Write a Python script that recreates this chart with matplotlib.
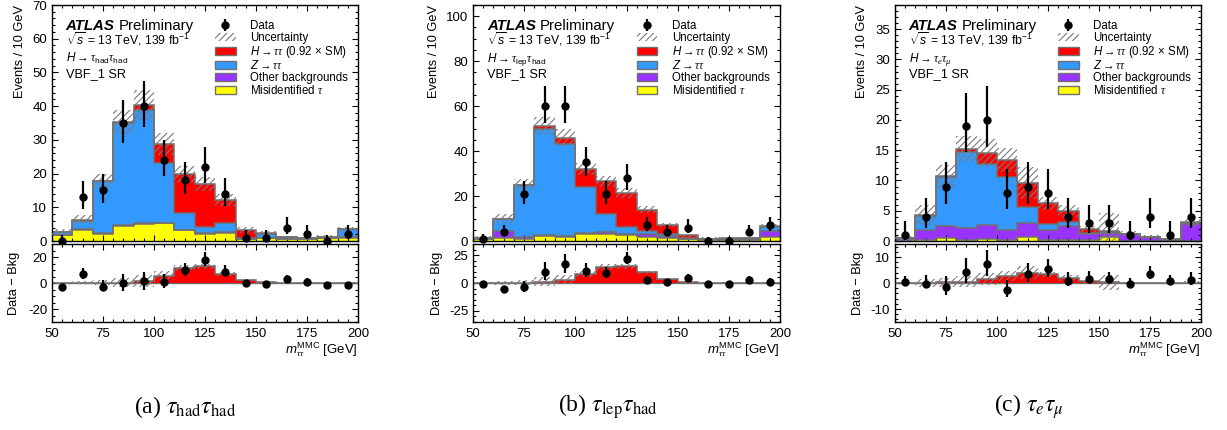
import numpy as np
import matplotlib
matplotlib.use("Agg")
import matplotlib.pyplot as plt
from matplotlib.patches import Patch
from matplotlib.ticker import MultipleLocator

plt.rcParams['font.family'] = ['Liberation Sans', 'DejaVu Sans']
plt.rcParams['mathtext.fontset'] = 'custom'
plt.rcParams['mathtext.rm'] = 'Liberation Sans'
plt.rcParams['mathtext.it'] = 'Liberation Sans:italic'
plt.rcParams['mathtext.bf'] = 'Liberation Sans:bold'
plt.rcParams['mathtext.sf'] = 'Liberation Serif:italic'
plt.rcParams['axes.unicode_minus'] = False
plt.rcParams['hatch.linewidth'] = 0.8
plt.rcParams['axes.linewidth'] = 1.0

# ---------------- data ----------------
bin_edges = np.arange(50, 201, 10)

# (a) tau_had tau_had
data_a  = [0, 13, 15, 35, 40, 24, 18, 22, 14, 1, 1, 4, 2, 0, 2]
fake_a  = [1.7, 3.4, 2.2, 4.5, 5.0, 5.2, 3.2, 2.2, 2.5, 0.5, 0.9, 0.6, 0.5, 0.8, 0.8]
other_a = [0.1, 0.1, 0.1, 0.2, 0.2, 0.2, 0.1, 0.1, 0.1, 0.1, 0.1, 0.1, 0.1, 0.1, 0.4]
ztt_a   = [0.9, 2.5, 15.4, 30.3, 33.6, 17.6, 4.9, 1.9, 2.7, 0.4, 1.0, 0.4, 0.3, 0.3, 2.3]
htt_a   = [0.0, 0.3, 0.1, 0.3, 1.5, 5.7, 11.6, 12.8, 6.9, 2.3, 0.4, 0.1, 0.0, 0.0, 0.1]
unc_a   = [0.9, 1.3, 2.0, 3.5, 4.5, 3.2, 2.3, 2.1, 1.8, 0.8, 0.7, 0.4, 0.4, 0.5, 0.6]

# (b) tau_lep tau_had
data_b  = [1, 4, 21, 60, 60, 35, 21, 28, 7, 4, 6, 0, 0, 4, 7]
fake_b  = [0.8, 1.5, 1.0, 2.2, 2.0, 3.0, 3.0, 2.5, 2.0, 1.5, 0.8, 0.6, 0.6, 0.6, 2.0]
other_b = [0.3, 3.0, 1.0, 0.3, 0.3, 0.5, 1.0, 0.7, 1.0, 0.8, 0.3, 0.2, 0.2, 0.2, 2.5]
ztt_b   = [0.4, 5.3, 22.7, 47.5, 40.7, 20.5, 8.0, 2.9, 1.5, 1.0, 0.4, 0.2, 0.3, 0.4, 1.8]
htt_b   = [0.0, 0.2, 0.3, 1.0, 3.0, 8.0, 14.5, 15.2, 9.5, 3.8, 1.1, 0.1, 0.1, 0.1, 0.3]
unc_b   = [0.6, 2.0, 2.5, 4.0, 3.8, 2.5, 2.6, 2.3, 1.5, 0.8, 0.6, 0.5, 0.5, 0.5, 1.0]

# (c) tau_e tau_mu
data_c  = [1, 4, 9, 19, 20, 8, 9, 8, 4, 3, 3, 1, 4, 1, 4]
fake_c  = [0.0, 0.2, 0.5, 0.1, 0.4, 0.1, 0.7, 0.2, 0.2, 0.1, 0.7, 0.0, 0.0, 0.0, 0.0]
other_c = [0.4, 1.6, 1.9, 2.1, 2.2, 1.7, 2.2, 1.6, 2.2, 1.1, 0.6, 1.1, 0.6, 0.2, 2.8]
ztt_c   = [0.05, 2.4, 8.1, 12.5, 10.2, 8.8, 2.7, 1.0, 0.7, 0.2, 0.2, 0.1, 0.1, 0.1, 0.2]
htt_c   = [0.0, 0.1, 0.2, 0.5, 1.7, 2.8, 4.0, 3.4, 1.9, 0.6, 0.2, 0.0, 0.0, 0.0, 0.1]
unc_c   = [0.4, 1.6, 1.9, 2.1, 2.3, 2.0, 2.6, 1.0, 1.0, 0.5, 3.0, 0.4, 0.3, 0.1, 0.6]

channel_labels = [r'$H\rightarrow\mathsf{\tau}_{\mathrm{had}}\mathsf{\tau}_{\mathrm{had}}$',
                  r'$H\rightarrow\mathsf{\tau}_{\mathrm{lep}}\mathsf{\tau}_{\mathrm{had}}$',
                  r'$H\rightarrow\mathsf{\tau}_{\mathsf{e}}\mathsf{\tau}_{\mathsf{\mu}}$']
captions = [r'(a) $\tau_{\mathrm{had}}\tau_{\mathrm{had}}$',
            r'(b) $\tau_{\mathrm{lep}}\tau_{\mathrm{had}}$',
            r'(c) $\tau_{e}\tau_{\mu}$']
legend_labels = ['Data', 'Uncertainty',
                 r'$H\rightarrow\mathsf{\tau\tau}$ (0.92 $\times$ SM)',
                 r'$Z\rightarrow\mathsf{\tau\tau}$', 'Other backgrounds',
                 r'Misidentified $\mathsf{\tau}$']
x_label = r'$m_{\mathsf{\tau\tau}}^{\mathrm{MMC}}$ [GeV]'

# ---------------- style ----------------
C_FAKE, C_OTHER, C_Z, C_H = '#ffff00', '#9933ff', '#3399ff', '#ff0000'
C_LINE = '#707070'
C_HATCH = '#7a7a7a'
HATCH = '/////'
W, H = 1227, 430


def garwood(n):
    n = np.asarray(n, float)

    def chi2q(k, z):
        k = np.maximum(k, 1e-9)
        return k * (1 - 2 / (9 * k) + z * np.sqrt(2 / (9 * k))) ** 3
    lo = np.where(n > 0, chi2q(2 * n, -1.0) / 2, 0.0)
    hi = chi2q(2 * n + 2, 1.0) / 2
    return n - lo, hi - n


def px_rect(l, r, t, b):
    return [l / W, 1 - b / H, (r - l) / W, (b - t) / H]


fig = plt.figure(figsize=(W / 100, H / 100), dpi=100)

panels = [
    dict(data=data_a, fake=fake_a, other=other_a, z=ztt_a, h=htt_a, unc=unc_a,
         L=52, R=358, ymax=70, ymaj=10, ymin=2, rlim=30, rmaj=20, rmin=5,
         ylx=-0.106, rlx=-0.123, cap_x=185),
    dict(data=data_b, fake=fake_b, other=other_b, z=ztt_b, h=htt_b, unc=unc_b,
         L=473, R=780, ymax=105, ymaj=20, ymin=5, rlim=35, rmaj=25, rmin=5,
         ylx=-0.127, rlx=-0.117, cap_x=608),
    dict(data=data_c, fake=fake_c, other=other_c, z=ztt_c, h=htt_c, unc=unc_c,
         L=895, R=1201, ymax=39, ymaj=5, ymin=1, rlim=15, rmaj=10, rmin=2,
         ylx=-0.108, rlx=-0.121, cap_x=1029),
]

centers = 0.5 * (bin_edges[1:] + bin_edges[:-1])

for i, p in enumerate(panels):
    ax = fig.add_axes(px_rect(p['L'], p['R'], 5, 241))
    axr = fig.add_axes(px_rect(p['L'], p['R'], 244, 322))

    data = np.array(p['data'], float)
    comps = [(np.array(p['fake']), C_FAKE), (np.array(p['other']), C_OTHER),
             (np.array(p['z']), C_Z), (np.array(p['h']), C_H)]
    base = np.zeros(len(centers))
    tops = []
    for vals, col in comps:
        top = base + vals
        ax.stairs(top, bin_edges, baseline=base, fill=True, color=col, lw=0, zorder=1)
        tops.append(top)
        base = top
    for top in tops:
        ax.stairs(top, bin_edges, baseline=None, color=C_LINE, lw=1.1, zorder=2)
    total = base
    unc = np.array(p['unc'])
    ax.stairs(total + unc, bin_edges, baseline=np.maximum(total - unc, 0), fill=True,
              facecolor='none', edgecolor=C_HATCH, hatch=HATCH, lw=0, zorder=3)
    lo, hi = garwood(data)
    eb = ax.errorbar(centers, data, yerr=[lo, hi], fmt='o', color='k', ms=5,
                     elinewidth=1.6, capsize=0, zorder=5, clip_on=False)

    ax.set_xlim(50, 200)
    ax.set_ylim(0, p['ymax'])
    ax.xaxis.set_major_locator(MultipleLocator(25))
    ax.xaxis.set_minor_locator(MultipleLocator(5))
    ax.yaxis.set_major_locator(MultipleLocator(p['ymaj']))
    ax.yaxis.set_minor_locator(MultipleLocator(p['ymin']))
    ax.tick_params(labelbottom=False)

    # ratio panel: data minus background
    bkg = tops[2]
    hsig = np.array(p['h'])
    axr.axhline(0, color=C_LINE, lw=1.0, zorder=1)
    axr.stairs(hsig, bin_edges, baseline=0, fill=True, color=C_H, lw=0, zorder=1)
    axr.stairs(hsig, bin_edges, baseline=None, color=C_LINE, lw=1.1, zorder=2)
    axr.stairs(hsig + unc, bin_edges, baseline=hsig - unc, fill=True,
               facecolor='none', edgecolor=C_HATCH, hatch=HATCH, lw=0, zorder=3)
    axr.errorbar(centers, data - bkg, yerr=[lo, hi], fmt='o', color='k', ms=5,
                 elinewidth=1.6, capsize=0, zorder=5)
    axr.set_xlim(50, 200)
    axr.set_ylim(-p['rlim'], p['rlim'])
    axr.xaxis.set_major_locator(MultipleLocator(25))
    axr.xaxis.set_minor_locator(MultipleLocator(5))
    axr.yaxis.set_major_locator(MultipleLocator(p['rmaj']))
    axr.yaxis.set_minor_locator(MultipleLocator(p['rmin']))

    for a in (ax, axr):
        a.tick_params(which='both', direction='in', top=True, right=True, labelsize=9.5)
        a.tick_params(which='major', length=4.0, width=0.8)
        a.tick_params(which='minor', length=2.2, width=0.8)
    axr.tick_params(axis='x', pad=4)

    # labels
    ax.text(p['ylx'], 1.0, 'Events / 10 GeV', rotation=90, ha='center', va='top',
            transform=ax.transAxes, fontsize=9.2)
    axr.text(p['rlx'], 0.5, 'Data \u2212 Bkg', rotation=90, ha='center', va='center',
             transform=axr.transAxes, fontsize=9.2)
    axr.text(1.0, -0.35, x_label, ha='right', va='center',
             transform=axr.transAxes, fontsize=9.5)

    t = ax.text(0.045, 0.894, 'ATLAS', fontsize=10.8, fontweight='bold', fontstyle='italic',
                transform=ax.transAxes, va='baseline')
    ax.annotate('Preliminary', xy=(1, 0), xycoords=t, xytext=(3, 0),
                textcoords='offset points', fontsize=10.8, va='bottom')
    ax.text(0.045, 0.831, r'$\sqrt{s}$ = 13 TeV, 139 fb$^{-1}$', fontsize=8.8,
            transform=ax.transAxes, va='baseline')
    ax.text(0.045, 0.758, channel_labels[i], fontsize=8.5, transform=ax.transAxes,
            va='baseline')
    ax.text(0.045, 0.695, 'VBF_1 SR', fontsize=9.2, transform=ax.transAxes, va='baseline')

    handles = [eb,
               Patch(facecolor='white', edgecolor=C_HATCH, hatch=HATCH, lw=0),
               Patch(facecolor=C_H, edgecolor=C_LINE, lw=1.0),
               Patch(facecolor=C_Z, edgecolor=C_LINE, lw=1.0),
               Patch(facecolor=C_OTHER, edgecolor=C_LINE, lw=1.0),
               Patch(facecolor=C_FAKE, edgecolor=C_LINE, lw=1.0)]
    ax.legend(handles, legend_labels, loc='upper left', bbox_to_anchor=(0.533, 0.936),
              frameon=False, fontsize=8.3, handlelength=1.8, handleheight=0.7,
              handletextpad=1.25, labelspacing=-0.02, borderpad=0, borderaxespad=0)

    fig.text(p['cap_x'] / W, 1 - 407 / H, captions[i], ha='center', va='center',
             fontsize=17, family='Liberation Serif', math_fontfamily='stix')

fig.savefig('out.png', dpi=100)
